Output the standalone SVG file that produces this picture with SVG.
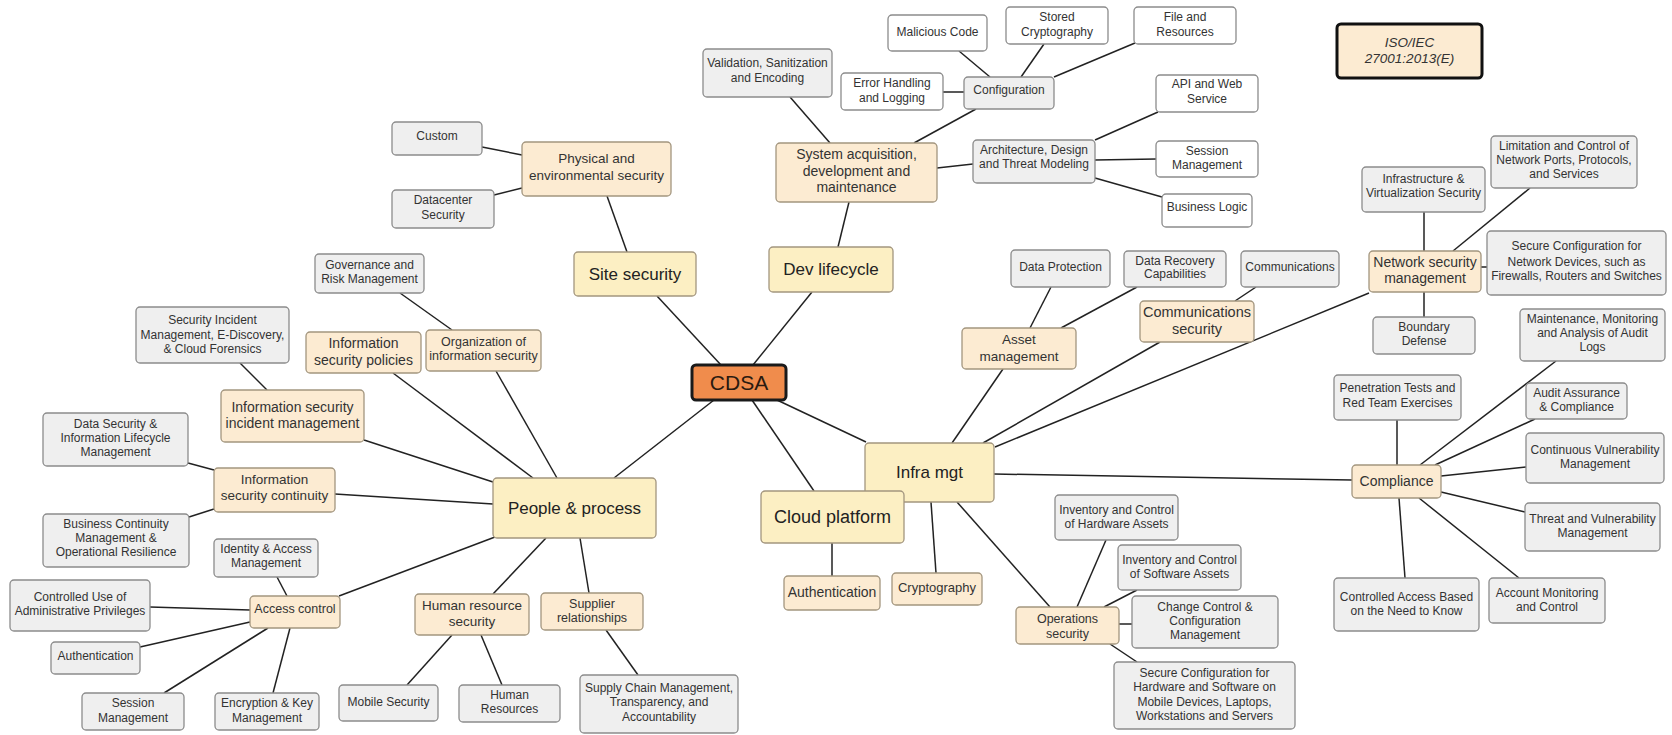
<svg xmlns="http://www.w3.org/2000/svg" width="1672" height="735" viewBox="0 0 1672 735">
<style>
text{font-family:"Liberation Sans",Arial,sans-serif;fill:#333;text-anchor:middle;font-size:12px}
.leaf rect{fill:#efefef;stroke:#8c8c8c;stroke-width:1.3}
.wleaf rect{fill:#ffffff;stroke:#8c8c8c;stroke-width:1.3}
.cat rect{fill:#fcebd2;stroke:#a3967f;stroke-width:1.3}
.main rect{fill:#fcefc3;stroke:#a3967f;stroke-width:1.3}
.main text{font-size:17px;fill:#222}
.c14 text{font-size:14px}
.c13 text{font-size:13.5px}
.c12 text{font-size:12.5px}
#edges line{stroke:#222;stroke-width:1.5}
</style>
<rect width="1672" height="735" fill="#ffffff"/>
<g id="edges">
<line x1="657" y1="296" x2="721" y2="365"/>
<line x1="812" y1="292" x2="753" y2="365"/>
<line x1="714" y1="400" x2="614" y2="478"/>
<line x1="777" y1="400" x2="866" y2="442"/>
<line x1="752" y1="400" x2="814" y2="491"/>
<line x1="607" y1="196" x2="627" y2="252"/>
<line x1="482" y1="147" x2="522" y2="155"/>
<line x1="494" y1="195" x2="522" y2="188"/>
<line x1="849" y1="202" x2="838" y2="247"/>
<line x1="790" y1="97" x2="830" y2="143"/>
<line x1="976" y1="109" x2="914" y2="143"/>
<line x1="937" y1="168" x2="973" y2="164"/>
<line x1="959" y1="51" x2="990" y2="77"/>
<line x1="1044" y1="44" x2="1021" y2="77"/>
<line x1="1135" y1="43" x2="1054" y2="77"/>
<line x1="943" y1="92" x2="964" y2="92"/>
<line x1="1095" y1="140" x2="1158" y2="112"/>
<line x1="1095" y1="160" x2="1156" y2="159"/>
<line x1="1095" y1="178" x2="1162" y2="197"/>
<line x1="400" y1="293" x2="452" y2="330"/>
<line x1="240" y1="363" x2="267" y2="390"/>
<line x1="393" y1="373" x2="533" y2="478"/>
<line x1="496" y1="371" x2="557" y2="478"/>
<line x1="364" y1="440" x2="493" y2="482"/>
<line x1="188" y1="463" x2="214" y2="470"/>
<line x1="335" y1="494" x2="493" y2="504"/>
<line x1="189" y1="517" x2="214" y2="509"/>
<line x1="339" y1="596" x2="495" y2="537"/>
<line x1="277" y1="577" x2="287" y2="596"/>
<line x1="150" y1="607" x2="250" y2="610"/>
<line x1="140" y1="647" x2="250" y2="622"/>
<line x1="164" y1="693" x2="268" y2="628"/>
<line x1="273" y1="693" x2="290" y2="628"/>
<line x1="493" y1="594" x2="546" y2="538"/>
<line x1="452" y1="635" x2="407" y2="685"/>
<line x1="481" y1="635" x2="502" y2="685"/>
<line x1="580" y1="538" x2="589" y2="593"/>
<line x1="606" y1="630" x2="638" y2="675"/>
<line x1="832" y1="543" x2="832" y2="576"/>
<line x1="931" y1="502" x2="936" y2="573"/>
<line x1="957" y1="502" x2="1050" y2="607"/>
<line x1="1106" y1="540" x2="1077" y2="607"/>
<line x1="1104" y1="607" x2="1137" y2="590"/>
<line x1="1119" y1="624" x2="1132" y2="624"/>
<line x1="1110" y1="644" x2="1137" y2="662"/>
<line x1="1003" y1="369" x2="952" y2="443"/>
<line x1="1051" y1="287" x2="1030" y2="328"/>
<line x1="1137" y1="287" x2="1061" y2="328"/>
<line x1="1160" y1="342" x2="983" y2="443"/>
<line x1="1256" y1="287" x2="1235" y2="301"/>
<line x1="1369" y1="293" x2="995" y2="447"/>
<line x1="1424" y1="212" x2="1424" y2="251"/>
<line x1="1530" y1="188" x2="1453" y2="251"/>
<line x1="1481" y1="267" x2="1487" y2="267"/>
<line x1="1424" y1="292" x2="1424" y2="317"/>
<line x1="994" y1="474" x2="1352" y2="480"/>
<line x1="1397" y1="420" x2="1397" y2="465"/>
<line x1="1556" y1="361" x2="1420" y2="465"/>
<line x1="1535" y1="419" x2="1435" y2="465"/>
<line x1="1526" y1="467" x2="1441" y2="476"/>
<line x1="1441" y1="492" x2="1525" y2="512"/>
<line x1="1399" y1="498" x2="1405" y2="578"/>
<line x1="1419" y1="498" x2="1519" y2="578"/>
</g>

<g id="cdsa"><rect x="692" y="365" width="94" height="35" rx="4" fill="#f08c4c" stroke="#1a1a1a" stroke-width="3"/><text x="739" y="390" style="font-size:21px;fill:#2a1a10">CDSA</text></g>
<g id="site" class="main"><rect x="574" y="252" width="122" height="44" rx="4"/><text x="635" y="280">Site security</text></g>
<g id="dev" class="main"><rect x="769" y="247" width="124" height="45" rx="4"/><text x="831" y="275">Dev lifecycle</text></g>
<g id="pp" class="main"><rect x="493" y="478" width="163" height="60" rx="4"/><text x="574.5" y="514">People &amp; process</text></g>
<g id="infra" class="main"><rect x="865" y="443" width="129" height="59" rx="4"/><text x="929.5" y="478">Infra mgt</text></g>
<g id="cloud" class="main"><rect x="761" y="491" width="143" height="52" rx="4"/><text x="832.5" y="523" style="font-size:18px">Cloud platform</text></g>

<g id="phys" class="cat c13"><rect x="522" y="142" width="149" height="54" rx="4"/><text x="596.5" y="163">Physical and</text><text x="596.5" y="180">environmental security</text></g>
<g id="sysacq" class="cat c14"><rect x="776" y="143" width="161" height="59" rx="4"/><text x="856.5" y="159">System acquisition,</text><text x="856.5" y="176">development and</text><text x="856.5" y="192">maintenance</text></g>
<g id="isp" class="cat c14"><rect x="306" y="332" width="115" height="41" rx="4"/><text x="363.5" y="348">Information</text><text x="363.5" y="365">security policies</text></g>
<g id="org" class="cat c12"><rect x="426" y="330" width="115" height="41" rx="4"/><text x="483.5" y="345.5">Organization of</text><text x="483.5" y="359.5">information security</text></g>
<g id="iim" class="cat c14"><rect x="221" y="390" width="143" height="52" rx="4"/><text x="292.5" y="412">Information security</text><text x="292.5" y="428">incident management</text></g>
<g id="isc" class="cat c13"><rect x="214" y="468" width="121" height="44" rx="4"/><text x="274.5" y="484">Information</text><text x="274.5" y="500">security continuity</text></g>
<g id="access" class="cat c12"><rect x="250" y="596" width="90" height="32" rx="4"/><text x="295" y="613">Access control</text></g>
<g id="hr" class="cat c13"><rect x="415" y="594" width="114" height="41" rx="4"/><text x="472" y="610">Human resource</text><text x="472" y="626">security</text></g>
<g id="supplier" class="cat c12"><rect x="541" y="593" width="102" height="37" rx="4"/><text x="592" y="607.5">Supplier</text><text x="592" y="621.5">relationships</text></g>
<g id="cauth" class="cat c14"><rect x="784" y="576" width="96" height="34" rx="4"/><text x="832" y="597">Authentication</text></g>
<g id="crypto" class="cat"><rect x="892" y="573" width="90" height="32" rx="4"/><text x="937" y="592" style="font-size:13px">Cryptography</text></g>
<g id="ops" class="cat c12"><rect x="1016" y="607" width="103" height="37" rx="4"/><text x="1067.5" y="622.5">Operations</text><text x="1067.5" y="637.5">security</text></g>
<g id="asset" class="cat c13"><rect x="962" y="328" width="114" height="41" rx="4"/><text x="1019" y="344">Asset</text><text x="1019" y="361">management</text></g>
<g id="commsec" class="cat"><rect x="1140" y="301" width="114" height="41" rx="4"/><text x="1197" y="317" style="font-size:14.5px">Communications</text><text x="1197" y="334" style="font-size:14.5px">security</text></g>
<g id="nsm" class="cat c14"><rect x="1369" y="251" width="112" height="41" rx="4"/><text x="1425" y="267">Network security</text><text x="1425" y="283">management</text></g>
<g id="compliance" class="cat c14"><rect x="1352" y="465" width="89" height="33" rx="4"/><text x="1396.5" y="486">Compliance</text></g>
<g id="iso"><rect x="1337" y="24" width="145" height="54" rx="4" fill="#fcebd2" stroke="#111" stroke-width="3"/><text x="1409.5" y="47" style="font-size:13.5px;font-style:italic">ISO/IEC</text><text x="1409.5" y="63" style="font-size:13.5px;font-style:italic">27001:2013(E)</text></g>

<g id="custom" class="leaf"><rect x="392" y="122" width="90" height="33" rx="4"/><text x="437" y="140">Custom</text></g>
<g id="datacenter" class="leaf"><rect x="392" y="190" width="102" height="38" rx="4"/><text x="443" y="204">Datacenter</text><text x="443" y="219">Security</text></g>
<g id="validation" class="leaf"><rect x="703" y="49" width="129" height="48" rx="4"/><text x="767.5" y="67">Validation, Sanitization</text><text x="767.5" y="82">and Encoding</text></g>
<g id="config" class="leaf"><rect x="964" y="77" width="90" height="32" rx="4"/><text x="1009" y="94">Configuration</text></g>
<g id="arch" class="leaf"><rect x="973" y="140" width="122" height="43" rx="4"/><text x="1034" y="154">Architecture, Design</text><text x="1034" y="168">and Threat Modeling</text></g>
<g id="malicious" class="wleaf"><rect x="888" y="15" width="99" height="36" rx="4"/><text x="937.5" y="36">Malicious Code</text></g>
<g id="stored" class="wleaf"><rect x="1006" y="7" width="102" height="37" rx="4"/><text x="1057" y="21">Stored</text><text x="1057" y="36">Cryptography</text></g>
<g id="error" class="wleaf"><rect x="841" y="73" width="102" height="37" rx="4"/><text x="892" y="87">Error Handling</text><text x="892" y="102">and Logging</text></g>
<g id="file" class="wleaf"><rect x="1134" y="7" width="102" height="37" rx="4"/><text x="1185" y="21">File and</text><text x="1185" y="36">Resources</text></g>
<g id="api" class="wleaf"><rect x="1156" y="75" width="102" height="37" rx="4"/><text x="1207" y="88">API and Web</text><text x="1207" y="103">Service</text></g>
<g id="session2" class="wleaf"><rect x="1156" y="141" width="102" height="36" rx="4"/><text x="1207" y="155">Session</text><text x="1207" y="169">Management</text></g>
<g id="bizlogic" class="wleaf"><rect x="1162" y="194" width="90" height="33" rx="4"/><text x="1207" y="211">Business Logic</text></g>
<g id="governance" class="leaf"><rect x="315" y="254" width="109" height="39" rx="4"/><text x="369.5" y="269">Governance and</text><text x="369.5" y="283">Risk Management</text></g>
<g id="secinc" class="leaf"><rect x="136" y="307" width="153" height="56" rx="4"/><text x="212.5" y="324">Security Incident</text><text x="212.5" y="339">Management, E-Discovery,</text><text x="212.5" y="353">&amp; Cloud Forensics</text></g>
<g id="datasec" class="leaf"><rect x="43" y="413" width="145" height="53" rx="4"/><text x="115.5" y="428">Data Security &amp;</text><text x="115.5" y="442">Information Lifecycle</text><text x="115.5" y="456">Management</text></g>
<g id="bcm" class="leaf"><rect x="43" y="514" width="146" height="53" rx="4"/><text x="116" y="528">Business Continuity</text><text x="116" y="542">Management &amp;</text><text x="116" y="556">Operational Resilience</text></g>
<g id="iam" class="leaf"><rect x="214" y="539" width="104" height="38" rx="4"/><text x="266" y="553">Identity &amp; Access</text><text x="266" y="567">Management</text></g>
<g id="cuap" class="leaf"><rect x="10" y="580" width="140" height="51" rx="4"/><text x="80" y="601">Controlled Use of</text><text x="80" y="615">Administrative Privileges</text></g>
<g id="authn" class="leaf"><rect x="51" y="642" width="89" height="32" rx="4"/><text x="95.5" y="660">Authentication</text></g>
<g id="sessmgmt" class="leaf"><rect x="82" y="693" width="102" height="37" rx="4"/><text x="133" y="707">Session</text><text x="133" y="722">Management</text></g>
<g id="enc" class="leaf"><rect x="215" y="693" width="104" height="37" rx="4"/><text x="267" y="707">Encryption &amp; Key</text><text x="267" y="722">Management</text></g>
<g id="mobile" class="leaf"><rect x="339" y="685" width="99" height="36" rx="4"/><text x="388.5" y="706">Mobile Security</text></g>
<g id="humanres" class="leaf"><rect x="459" y="685" width="101" height="37" rx="4"/><text x="509.5" y="699">Human</text><text x="509.5" y="713">Resources</text></g>
<g id="supplychain" class="leaf"><rect x="580" y="675" width="158" height="58" rx="4"/><text x="659" y="692">Supply Chain Management,</text><text x="659" y="706">Transparency, and</text><text x="659" y="721">Accountability</text></g>
<g id="dataprot" class="leaf"><rect x="1011" y="250" width="99" height="37" rx="4"/><text x="1060.5" y="271">Data Protection</text></g>
<g id="datarec" class="leaf"><rect x="1124" y="251" width="102" height="36" rx="4"/><text x="1175" y="265">Data Recovery</text><text x="1175" y="278">Capabilities</text></g>
<g id="comms" class="leaf"><rect x="1241" y="251" width="98" height="36" rx="4"/><text x="1290" y="271">Communications</text></g>
<g id="infravirt" class="leaf"><rect x="1362" y="167" width="123" height="45" rx="4"/><text x="1423.5" y="183">Infrastructure &amp;</text><text x="1423.5" y="197">Virtualization Security</text></g>
<g id="limitation" class="leaf"><rect x="1491" y="136" width="146" height="52" rx="4"/><text x="1564" y="150">Limitation and Control of</text><text x="1564" y="164">Network Ports, Protocols,</text><text x="1564" y="178">and Services</text></g>
<g id="secconfnet" class="leaf"><rect x="1487" y="231" width="179" height="64" rx="4"/><text x="1576.5" y="250">Secure Configuration for</text><text x="1576.5" y="266">Network Devices, such as</text><text x="1576.5" y="280">Firewalls, Routers and Switches</text></g>
<g id="boundary" class="leaf"><rect x="1373" y="317" width="102" height="37" rx="4"/><text x="1424" y="331">Boundary</text><text x="1424" y="345">Defense</text></g>
<g id="maint" class="leaf"><rect x="1520" y="309" width="145" height="52" rx="4"/><text x="1592.5" y="323">Maintenance, Monitoring</text><text x="1592.5" y="337">and Analysis of Audit</text><text x="1592.5" y="351">Logs</text></g>
<g id="pentest" class="leaf"><rect x="1334" y="375" width="127" height="45" rx="4"/><text x="1397.5" y="392">Penetration Tests and</text><text x="1397.5" y="407">Red Team Exercises</text></g>
<g id="audit" class="leaf"><rect x="1526" y="383" width="101" height="36" rx="4"/><text x="1576.5" y="397">Audit Assurance</text><text x="1576.5" y="411">&amp; Compliance</text></g>
<g id="contvuln" class="leaf"><rect x="1526" y="433" width="138" height="50" rx="4"/><text x="1595" y="454">Continuous Vulnerability</text><text x="1595" y="468">Management</text></g>
<g id="threat" class="leaf"><rect x="1525" y="503" width="135" height="48" rx="4"/><text x="1592.5" y="523">Threat and Vulnerability</text><text x="1592.5" y="537">Management</text></g>
<g id="ctrlaccess" class="leaf"><rect x="1334" y="578" width="145" height="53" rx="4"/><text x="1406.5" y="601">Controlled Access Based</text><text x="1406.5" y="615">on the Need to Know</text></g>
<g id="acctmon" class="leaf"><rect x="1489" y="578" width="116" height="45" rx="4"/><text x="1547" y="597">Account Monitoring</text><text x="1547" y="611">and Control</text></g>
<g id="invhw" class="leaf"><rect x="1055" y="495" width="123" height="45" rx="4"/><text x="1116.5" y="514">Inventory and Control</text><text x="1116.5" y="528">of Hardware Assets</text></g>
<g id="invsw" class="leaf"><rect x="1118" y="545" width="123" height="45" rx="4"/><text x="1179.5" y="564">Inventory and Control</text><text x="1179.5" y="578">of Software Assets</text></g>
<g id="change" class="leaf"><rect x="1132" y="596" width="146" height="52" rx="4"/><text x="1205" y="611">Change Control &amp;</text><text x="1205" y="625">Configuration</text><text x="1205" y="639">Management</text></g>
<g id="secconfhw" class="leaf"><rect x="1114" y="662" width="181" height="67" rx="4"/><text x="1204.5" y="677">Secure Configuration for</text><text x="1204.5" y="691">Hardware and Software on</text><text x="1204.5" y="706">Mobile Devices, Laptops,</text><text x="1204.5" y="720">Workstations and Servers</text></g>
</svg>
